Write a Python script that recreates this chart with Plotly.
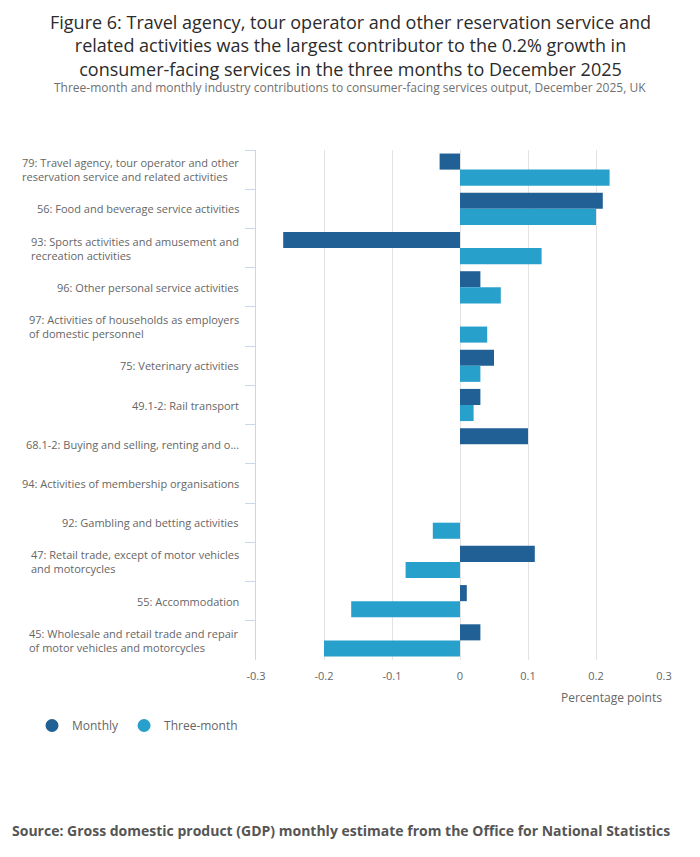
import plotly.graph_objects as go

categories = [
    "79: Travel agency, tour operator and other<br>reservation service and related activities",
    "56: Food and beverage service activities",
    "93: Sports activities and amusement and<br>recreation activities",
    "96: Other personal service activities",
    "97: Activities of households as employers<br>of domestic personnel",
    "75: Veterinary activities",
    "49.1-2: Rail transport",
    "68.1-2: Buying and selling, renting and o...",
    "94: Activities of membership organisations",
    "92: Gambling and betting activities",
    "47: Retail trade, except of motor vehicles<br>and motorcycles",
    "55: Accommodation",
    "45: Wholesale and retail trade and repair<br>of motor vehicles and motorcycles",
]
monthly = [-0.03, 0.21, -0.26, 0.03, 0.0, 0.05, 0.03, 0.10, 0.0, 0.0, 0.11, 0.01, 0.03]
three_month = [0.22, 0.20, 0.12, 0.06, 0.04, 0.03, 0.02, 0.0, 0.0, -0.04, -0.08, -0.16, -0.20]
x_tickvals = [-0.3, -0.2, -0.1, 0, 0.1, 0.2, 0.3]
x_ticktext = ["-0.3", "-0.2", "-0.1", "0", "0.1", "0.2", "0.3"]
title_text = ("Figure 6: Travel agency, tour operator and other reservation service and<br>"
              "related activities was the largest contributor to the 0.2% growth in<br>"
              "consumer-facing services in the three months to December 2025")
subtitle_text = ("Three-month and monthly industry contributions to consumer-facing services "
                 "output, December 2025, UK")
source_text = "Source: Gross domestic product (GDP) monthly estimate from the Office for National Statistics"

FONT = "Open Sans"
DARK = "#206095"
LIGHT = "#27a0cc"
OFF = 8  # page body margin
W, H = 700 - 2 * OFF, 857 - 2 * OFF
# target plot area in screenshot pixels: x 256..664, y 150..660
PL, PR, PT, PB = 256 - OFF, 664 - OFF, 150 - OFF, 660 - OFF
L, R, T, B = PL, W - PR, PT, H - PB
PW, PH = PR - PL, PB - PT


def px_x(p):
    return (p - OFF - PL) / PW


def px_y(p):
    return (PB - (p - OFF)) / PH


fig = go.Figure()
fig.add_trace(go.Bar(y=categories, x=monthly, orientation="h", name="Monthly",
                     marker=dict(color=DARK, line=dict(width=0)), showlegend=False))
fig.add_trace(go.Bar(y=categories, x=three_month, orientation="h", name="Three-month",
                     marker=dict(color=LIGHT, line=dict(width=0)), showlegend=False))
fig.add_trace(go.Scatter(x=[None], y=[None], mode="markers", name="Monthly",
                         marker=dict(color=DARK, size=13, symbol="circle")))
fig.add_trace(go.Scatter(x=[None], y=[None], mode="markers", name="Three-month",
                         marker=dict(color=LIGHT, size=13, symbol="circle")))

annotations = []
for c in categories:
    annotations.append(dict(text=c, x=px_x(241), xref="paper", y=c, yref="y",
                            xanchor="right", align="left", yanchor="middle",
                            showarrow=False, font=dict(family=FONT, size=11, color="#666666")))

annotations.append(dict(text=title_text, x=px_x(350), xref="paper", y=px_y(8.5), yref="paper",
                        xanchor="center", yanchor="top", align="center", showarrow=False,
                        borderpad=0, font=dict(family=FONT, size=18, color="#2b2b2b")))
annotations.append(dict(text=subtitle_text, x=px_x(350), xref="paper", y=px_y(87), yref="paper",
                        xanchor="center", yanchor="middle", showarrow=False,
                        font=dict(family=FONT, size=12, color="#707070")))
annotations.append(dict(text="Percentage points", x=1, xref="paper", y=px_y(697), yref="paper",
                        xanchor="right", yanchor="middle", showarrow=False,
                        font=dict(family=FONT, size=12, color="#666666")))
annotations.append(dict(text="<b>" + source_text + "</b>",
                        x=px_x(10), xref="paper", y=px_y(830), yref="paper", xanchor="left",
                        yanchor="middle", showarrow=False,
                        font=dict(family=FONT, size=14, color="#555555")))

fig.update_layout(
    width=W, height=H,
    margin=dict(l=L, r=R, t=T, b=B, autoexpand=False),
    paper_bgcolor="white", plot_bgcolor="white",
    font=dict(family=FONT, color="#666666"),
    barmode="group", bargap=0.18, bargroupgap=0,
    xaxis=dict(range=[-0.3, 0.3], tickvals=x_tickvals, ticktext=x_ticktext,
               showgrid=True, gridcolor="#e3e3e3", gridwidth=1, zeroline=False,
               showline=False, ticks="", ticklabelstandoff=8,
               tickfont=dict(family=FONT, size=11, color="#666666"), fixedrange=True),
    yaxis=dict(autorange="reversed", showticklabels=False, showgrid=False, showline=True,
               linecolor="#ccd6eb", linewidth=1, ticks="outside", tickson="boundaries",
               ticklen=10, tickcolor="#ccd6eb", zeroline=False),
    legend=dict(orientation="h", x=px_x(32), y=px_y(711), xanchor="left", yanchor="top",
                font=dict(family=FONT, size=12, color="#666666"), itemclick=False),
    annotations=annotations,
)

fig.write_html("out.html")
